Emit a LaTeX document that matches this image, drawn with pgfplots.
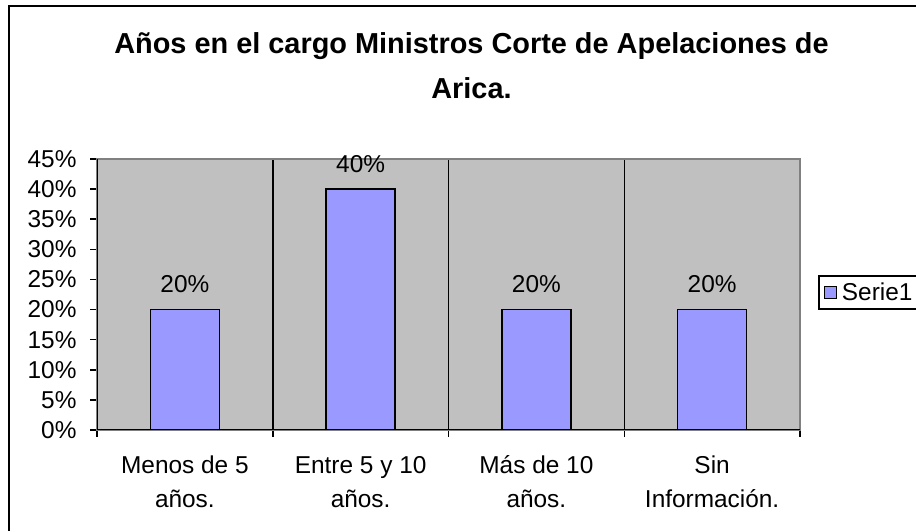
\documentclass[border=0pt]{standalone}
\usepackage{fontspec}
\setmainfont{Liberation Sans}
\usepackage{pgfplots}
\pgfplotsset{compat=1.18}
\definecolor{plotgray}{RGB}{192,192,192}
\definecolor{barblue}{RGB}{153,153,255}
\definecolor{framegray}{RGB}{128,128,128}

\begin{document}
\begin{tikzpicture}[x=1bp,y=1bp]
\useasboundingbox (0,0) rectangle (916,531);
\draw[line width=2bp] (9,-20) rectangle (950,525);
% title, two lines
\node[anchor=base, font=\bfseries\fontsize{29}{44}\selectfont] at (471.5,477) {Años en el cargo Ministros Corte de Apelaciones de};
\node[anchor=base, font=\bfseries\fontsize{29}{44}\selectfont] at (471.5,432) {Arica.};
\begin{axis}[
    at={(97bp,101bp)}, anchor=south west,
    width=703bp, height=271bp, scale only axis,
    xmin=0.5, xmax=4.5, ymin=0, ymax=45,
    axis background/.style={fill=plotgray},
    axis line style={framegray, line width=2bp},
    ybar, bar width=0.393,
    xtick={1,2,3,4},
    xticklabels={{\strut Menos de 5\\\strut años.}, {\strut Entre 5 y 10\\\strut años.},
                 {\strut Más de 10\\\strut años.}, {\strut Sin\\\strut Información.}},
    minor xtick={0.5,1.5,2.5,3.5,4.5},
    xminorgrids=true,
    minor x grid style={black, line width=1.5bp},
    major tick length=7bp,
    minor tick length=7bp,
    major x tick style={draw=none},
    minor x tick style={black, line width=1.5bp},
    ytick style={black, line width=1.5bp},
    tick align=outside, tick pos=left,
    ytick={0,5,...,45},
    yticklabels={0\%,5\%,10\%,15\%,20\%,25\%,30\%,35\%,40\%,45\%},
    ticklabel style={font=\fontsize{24.5}{34}\selectfont, text=black},
    xticklabel style={align=center, yshift=-9bp},
    yticklabel style={xshift=-10bp},
    /pgf/number format/assume math mode=true,
    nodes near coords={\pgfmathprintnumber{\pgfplotspointmeta}\%},
    nodes near coords style={anchor=base, yshift=17bp, font=\fontsize{24.5}{27}\selectfont, text=black},
    legend style={at={(rel axis cs:1.0256,0.507)}, anchor=west, draw=black, line width=1.5bp,
        font=\fontsize{24.5}{27}\selectfont, inner xsep=5bp, inner ysep=5bp, nodes={inner xsep=5bp}},
    legend image code/.code={\draw[#1, line width=1.2bp] (0bp,-6bp) rectangle (12bp,6bp);},
]
\addplot[fill=barblue, draw=black, line width=1.5bp] coordinates {(1,20) (2,40) (3,20) (4,20)};
\addlegendentry{Serie1}
\draw[black, line width=1.5bp] (rel axis cs:0,0) -- (rel axis cs:1,0);
\draw[black, line width=1.5bp] (rel axis cs:0,0) -- (rel axis cs:0,1);
\end{axis}
\end{tikzpicture}
\end{document}
